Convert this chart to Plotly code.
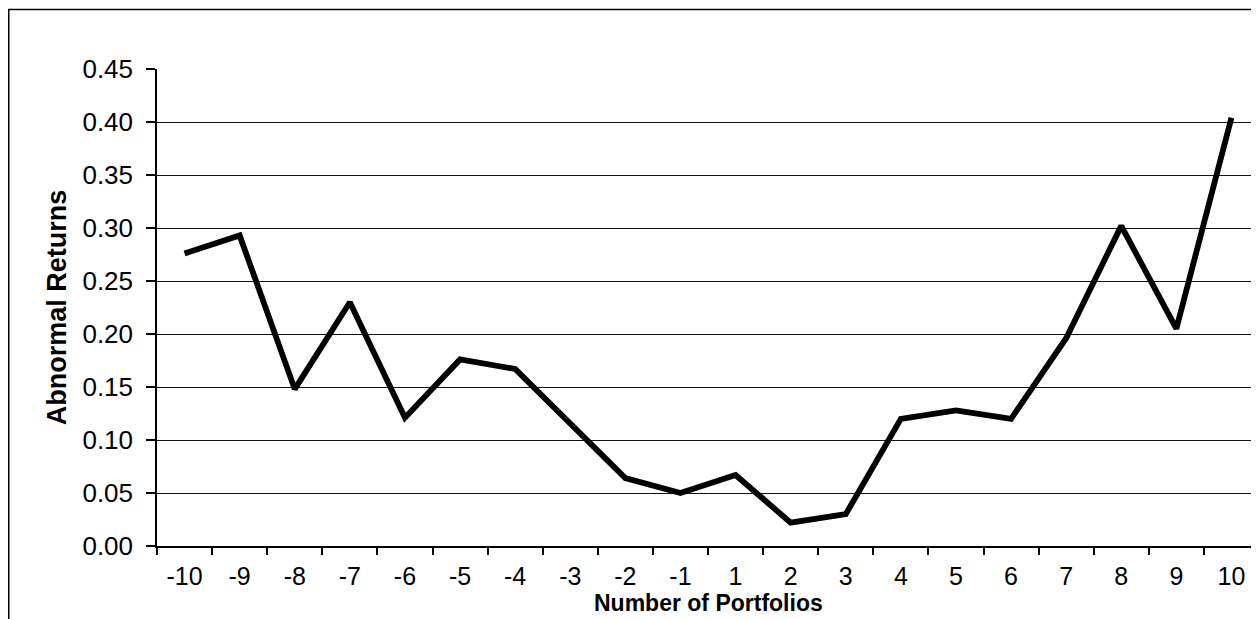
import plotly.graph_objects as go

portfolios = ["-10", "-9", "-8", "-7", "-6", "-5", "-4", "-3", "-2", "-1",
              "1", "2", "3", "4", "5", "6", "7", "8", "9", "10"]
abnormal_returns = [0.276, 0.293, 0.148, 0.230, 0.121, 0.176, 0.167, 0.115, 0.064, 0.050,
                    0.067, 0.022, 0.030, 0.120, 0.128, 0.120, 0.196, 0.302, 0.205, 0.404]
y_ticks = [0.00, 0.05, 0.10, 0.15, 0.20, 0.25, 0.30, 0.35, 0.40, 0.45]
y_tick_labels = ["%.2f" % v for v in y_ticks]

FONT = "Liberation Sans, Arial, sans-serif"

fig = go.Figure()
fig.add_trace(go.Scatter(
    x=portfolios, y=abnormal_returns, mode="lines",
    line=dict(color="black", width=5.8),
    showlegend=False, hoverinfo="skip",
))

# the page body adds an 8px margin, so the figure is sized to fit the window
W, H = 1251, 611
ml, mr, mt, mb = 149, 0, 61, 73
pw, ph = W - ml - mr, H - mt - mb

fig.update_layout(
    width=W, height=H,
    margin=dict(l=ml, r=mr, t=mt, b=mb, pad=0),
    paper_bgcolor="white", plot_bgcolor="white",
    font=dict(family=FONT, color="black"),
    xaxis=dict(
        type="category", categoryorder="array", categoryarray=portfolios,
        range=[-0.5, len(portfolios) - 0.5],
        showline=True, linecolor="black", linewidth=1.5,
        ticks="outside", tickson="boundaries", ticklen=7, tickcolor="black", tickwidth=1.5,
        showgrid=False, zeroline=False,
        tickfont=dict(size=25, family=FONT, color="black"),
        ticklabelstandoff=7,
        automargin=False,
    ),
    yaxis=dict(
        range=[0, 0.45],
        tickvals=y_ticks, ticktext=y_tick_labels,
        showline=True, linecolor="black", linewidth=1.5,
        ticks="outside", ticklen=9, tickcolor="black", tickwidth=1.5,
        showgrid=True, gridcolor="#111111", gridwidth=1.3,
        zeroline=False,
        tickfont=dict(size=26, family=FONT, color="black"),
        ticklabelstandoff=8,
        title=dict(text="<b>Abnormal Returns</b>", font=dict(size=27, family=FONT, color="black"),
                   standoff=8),
        automargin=False,
    ),
)

# x-axis title placed just under the tick labels
fig.add_annotation(text="<b>Number of Portfolios</b>", xref="paper", yref="paper",
                   x=0.5, y=-(57 / ph), xanchor="center", yanchor="middle",
                   showarrow=False, font=dict(size=23, family=FONT, color="black"))

# outer chart border (left and top edges visible; right/bottom run off the canvas)
fig.add_shape(type="rect", xref="paper", yref="paper",
              x0=(0.75 - ml) / pw, x1=1.02, y0=-0.3, y1=(H - mb - 1.5) / ph,
              line=dict(color="black", width=1.5), fillcolor="rgba(0,0,0,0)", layer="above")

fig.write_html("out.html")
